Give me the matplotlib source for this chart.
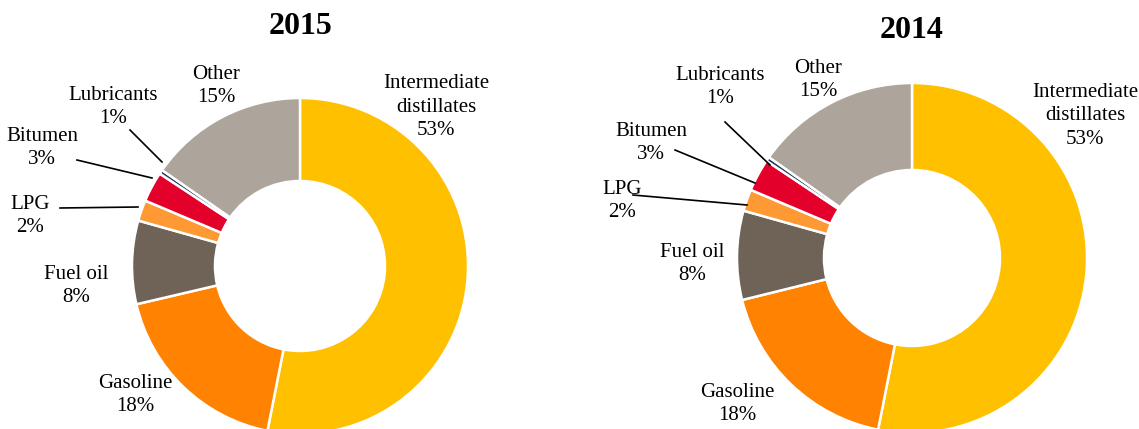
import matplotlib
matplotlib.use("Agg")
import matplotlib.pyplot as plt

categories = ["Intermediate\ndistillates", "Gasoline", "Fuel oil", "LPG", "Bitumen", "Lubricants", "Other"]
values_2015 = [53.0, 18.2, 8.0, 2.0, 2.9, 0.4, 15.3]
values_2014 = [53.0, 18.0, 8.2, 2.0, 3.0, 0.4, 15.2]
labels_pct_2015 = ["53%", "18%", "8%", "2%", "3%", "1%", "15%"]
labels_pct_2014 = ["53%", "18%", "8%", "2%", "3%", "1%", "15%"]
titles = ["2015", "2014"]

colors = ["#FFC000", "#FF8200", "#6F6257", "#FF9933", "#E3002B", "#1F3864", "#ADA59B"]

W, H = 1139, 429
fig = plt.figure(figsize=(W / 100, H / 100), dpi=100)
ax = fig.add_axes([0, 0, 1, 1])
ax.set_xlim(0, W)
ax.set_ylim(0, H)
ax.axis("off")

FONT = "Liberation Serif"
FS = 15

def donut(values, pcts, title, cx, cy, r, width, title_xy, label_pos, leaders):
    ax.pie(values, center=(cx, H - cy), radius=r, startangle=90, counterclock=False,
           colors=colors, normalize=True,
           wedgeprops=dict(width=width, edgecolor="white", linewidth=1.8))
    ax.text(title_xy[0], H - title_xy[1], title, ha="center", va="center",
            fontsize=23, fontweight="bold", family=FONT)
    for cat, pct, (lx, ly) in zip(categories, pcts, label_pos):
        ax.text(lx, H - ly, f"{cat}\n{pct}", ha="center", va="center", fontsize=FS,
                family=FONT, linespacing=1.35)
    for (x0, y0), (x1, y1) in leaders:
        ax.plot([x0, x1], [H - y0, H - y1], color="black", lw=1.2)

# 2015
donut(values_2015, labels_pct_2015, titles[0], 300, 266, 168, 83, (300, 27),
      [(436, 107), (135, 395), (76, 286), (30, 216), (42, 148), (113, 107), (216, 86)],
      [((130, 130), (162, 162)), ((77, 160), (152, 178)), ((60, 208), (138, 207))])

# 2014
donut(values_2014, labels_pct_2014, titles[1], 912, 258, 175, 87, (912, 30),
      [(1085, 116), (737, 404), (692, 264), (622, 201), (651, 143), (720, 87), (818, 80)],
      [((725, 122), (770, 165)), ((675, 150), (755, 183)), ((633, 195), (747, 205))])

ax.set_xlim(0, W)
ax.set_ylim(0, H)
ax.set_aspect("auto")
fig.savefig("out.png", dpi=100)
